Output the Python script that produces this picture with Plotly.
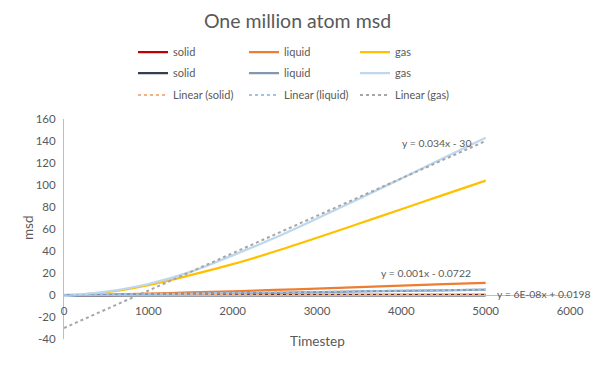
import plotly.graph_objects as go

timestep = [0, 500, 1000, 1500, 2000, 2500, 3000, 3500, 4000, 4500, 5000]
solid_a = [0.0, 0.0, 0.1, 0.1, 0.1, 0.1, 0.1, 0.1, 0.1, 0.1, 0.1]
liquid_a = [-0.5, 0.3, 1.3, 2.3, 3.4, 4.6, 5.9, 7.2, 8.5, 9.8, 11.0]
gas_a = [0.0, 2.5, 9.0, 18.0, 28.0, 39.5, 52.0, 65.0, 78.0, 91.0, 104.0]
solid_b = [-0.4, -0.4, -0.4, -0.4, -0.4, -0.4, -0.4, -0.4, -0.4, -0.4, -0.4]
liquid_b = [-0.8, -0.2, 0.4, 0.9, 1.5, 2.0, 2.6, 3.2, 3.7, 4.2, 4.8]
gas_b = [-1.0, 3.0, 10.0, 21.0, 36.0, 52.0, 69.5, 87.5, 106.0, 124.5, 143.0]

trend_x = [0, 5000]
trend_solid = (6e-08, 0.0198)
trend_liquid = (0.001, -0.0722)
trend_gas = (0.034, -30)
labels_trend = ["y = 6E-08x + 0.0198", "y = 0.001x - 0.0722", "y = 0.034x - 30"]

x_ticks = [0, 1000, 2000, 3000, 4000, 5000, 6000]
y_ticks = [-40, -20, 0, 20, 40, 60, 80, 100, 120, 140, 160]

txt = "#595959"
font = "Lato, Liberation Sans, sans-serif"

fig = go.Figure()

def line(y, name, color, legend, width=2.25):
    fig.add_trace(go.Scatter(x=timestep, y=y, mode="lines", name=name, legend=legend,
                             line=dict(color=color, width=width, shape="spline")))

def trend(coef, name, color, legend):
    ys = [coef[0] * x + coef[1] for x in trend_x]
    fig.add_trace(go.Scatter(x=trend_x, y=ys, mode="lines", name=name, legend=legend,
                             line=dict(color=color, width=2, dash="dot")))

line(solid_a, "solid", "#C00000", "legend")
line(liquid_a, "liquid", "#ED7D31", "legend")
line(gas_a, "gas", "#FFC000", "legend")
line(solid_b, "solid", "#333F50", "legend2")
line(liquid_b, "liquid", "#8497B0", "legend2")
line(gas_b, "gas", "#BDD7EE", "legend2")
trend(trend_solid, "Linear (solid)", "#F4B183", "legend3")
trend(trend_liquid, "Linear (liquid)", "#9DC3E6", "legend3")
trend(trend_gas, "Linear (gas)", "#A6A6A6", "legend3")

W, H = 595, 373
L, R, T, B = 64, 25, 119, 34
ph = H - T - B
pw = W - L - R

def py(pix):
    return (H - B - pix) / ph

def px(pix):
    return (pix - L) / pw

leg_common = dict(orientation="h", xanchor="left", yanchor="middle", entrywidth=66,
                  entrywidthmode="pixels", font=dict(family=font, size=11, color=txt),
                  bgcolor="rgba(0,0,0,0)", itemwidth=30, tracegroupgap=0)
lx = px(133)

fig.update_layout(
    width=W, height=H, margin=dict(l=L, r=R, t=T, b=B, autoexpand=False),
    paper_bgcolor="white", plot_bgcolor="white",
    font=dict(family=font, size=11.5, color=txt),
    title=dict(text="One million atom msd", x=0.5, xanchor="center", y=1 - 21 / H,
               yanchor="middle", font=dict(family=font, size=19.5, color=txt)),
    legend=dict(leg_common, x=lx, y=py(52)),
    legend2=dict(leg_common, x=lx, y=py(73)),
    legend3=dict(leg_common, x=lx, y=py(95)),
    xaxis=dict(range=[0, 6000], tickvals=x_ticks, ticktext=[str(v) for v in x_ticks],
               showgrid=False, zeroline=False, showline=True, linecolor="#BFBFBF",
               linewidth=1, anchor="free", position=py(295), ticks="",
               ticklabelstandoff=5,
               tickfont=dict(family=font, size=11.5, color=txt)),
    yaxis=dict(range=[-40, 160], tickvals=y_ticks, ticktext=[str(v) for v in y_ticks],
               showgrid=False, zeroline=False, showline=True, linecolor="#BFBFBF",
               linewidth=1, ticks="", ticklabelstandoff=5,
               tickfont=dict(family=font, size=11.5, color=txt)),
    showlegend=True,
)

fig.add_annotation(text="msd", x=px(18), y=py(228), xref="paper", yref="paper",
                   textangle=-90, showarrow=False, font=dict(family=font, size=13.5, color=txt))
fig.add_annotation(text="Timestep", x=px(317), y=py(351), xref="paper", yref="paper",
                   showarrow=False, font=dict(family=font, size=13.5, color=txt))

fig.add_annotation(text=labels_trend[2], x=4850, y=138, xref="x", yref="y", xanchor="right",
                   showarrow=False, font=dict(family=font, size=10.4, color=txt))
fig.add_annotation(text=labels_trend[1], x=4293, y=20, xref="x", yref="y", xanchor="center",
                   showarrow=False, font=dict(family=font, size=10.4, color=txt))
fig.add_annotation(text=labels_trend[0], x=5110, y=0.5, xref="x", yref="y", xanchor="left",
                   showarrow=False, font=dict(family=font, size=10.4, color=txt))

fig.write_html("out.html", config={"displayModeBar": False},
               post_script="document.body.style.margin='0';")
